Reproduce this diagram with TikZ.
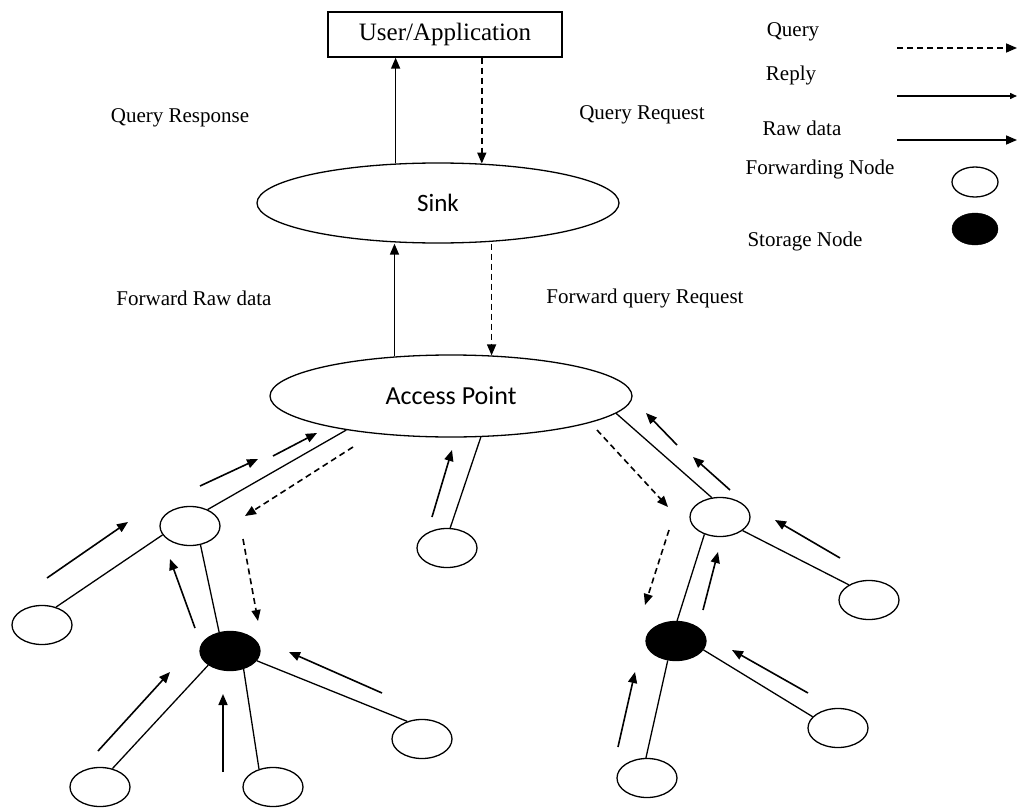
\documentclass[tikz,border=0pt]{standalone}
\usepackage{fontspec}
\setmainfont{Liberation Serif}
\newfontfamily\calib{Carlito}
\usetikzlibrary{shapes.geometric,arrows.meta,calc}
\begin{document}
\begin{tikzpicture}[x=1pt,y=-1pt,
  lab/.style={font=\fontsize{21}{24}\selectfont, inner sep=0},
  fnode/.style={ellipse, draw, line width=1.3pt, minimum width=60pt, minimum height=39pt, inner sep=0},
  snode/.style={fnode, fill=black},
  bignode/.style={ellipse, draw, line width=1.3pt, minimum width=362pt, inner sep=0},
  link/.style={line width=1.3pt},
  raw/.style={line width=1.6pt, -{Triangle[length=11pt,width=9pt]}},
  reply/.style={line width=1.4pt, -{Triangle[length=7pt,width=6pt]}},
  qry/.style={line width=1.6pt, dash pattern=on 6pt off 4pt, -{Triangle[length=11pt,width=9pt]}}
]
\useasboundingbox (0,0) rectangle (1018,808);

% main blocks
\node[draw, line width=1.3pt, minimum width=234pt, minimum height=45pt, inner sep=0,
      font=\fontsize{25}{28}\selectfont] (UA) at (445,34.5) {User/Application};
\node[bignode, minimum height=80pt, font=\calib\fontsize{25}{28}\selectfont] (Sink) at (438,203) {Sink};
\node[bignode, minimum height=82pt, font=\calib\fontsize{26}{30}\selectfont] (AP) at (451,396) {Access Point};

% labels
\node[lab] (tqr) at (180,118) {Query Response};
\node[lab] (tqq) at (642,115) {Query Request};
\node[lab] (tfr) at (194,298) {Forward Raw data};
\node[lab] (tfq) at (645,298) {Forward query Request};

% legend
\node[lab] (lq) at (793,32) {Query};
\node[lab] (lr) at (791,75) {Reply};
\node[lab] (lw) at (802,128) {Raw data};
\node[lab] (lf) at (820,169) {Forwarding Node};
\node[lab] (ls) at (805,241) {Storage Node};
\node[ellipse, draw, line width=1.3pt, minimum width=46pt, minimum height=30pt, inner sep=0] (lfo) at (975,182) {};
\node[ellipse, draw, fill=black, minimum width=46pt, minimum height=32pt, inner sep=0] (lso) at (975,229) {};
\coordinate (lq1) at (897,48);  \coordinate (lq2) at (1017,48);
\coordinate (lr1) at (897,96);  \coordinate (lr2) at (1017,96);
\coordinate (lw1) at (897,140); \coordinate (lw2) at (1017,140);
\draw[qry] (lq1) -- (lq2);
\draw[reply] (lr1) -- (lr2);
\draw[raw] (lw1) -- (lw2);

% tree nodes
\node[fnode] (F1) at (190,526) {};
\node[fnode] (L1) at (42,625) {};
\node[snode] (S1) at (230,651) {};
\node[fnode] (L2) at (100,787) {};
\node[fnode] (L3) at (273,787) {};
\node[fnode] (L4) at (422,739) {};
\node[fnode] (M)  at (447,548) {};
\node[fnode] (F2) at (720,517) {};
\node[fnode] (R1) at (869,600) {};
\node[snode] (S2) at (676,641) {};
\node[fnode] (R2) at (647,778) {};
\node[fnode] (R3) at (838,728) {};

% vertical arrows
\draw[raw] (Sink.137) -- (Sink.137 |- UA.south);
\draw[qry] (Sink.42 |- UA.south) -- (Sink.42);
\draw[raw] (AP.145) -- (AP.145 |- Sink.south);
\draw[qry] (AP.45 |- Sink.south) -- (AP.45);

% links
\draw[link] (AP.198) -- (F1.43);
\draw[link] (F1.198) -- (L1.52);
\draw[link] (F1.299) -- (S1.120);
\draw[link] (S1.213) -- (L2.56);
\draw[link] (S1.307) -- (L3.128);
\draw[link] (S1.340) -- (L4.130);
\draw[link] (AP.306) -- (M.81);
\draw[link] (AP.354) -- (F2.113);
\draw[link] (F2.228) -- (S2.87);
\draw[link] (F2.329) -- (R1.143);
\draw[link] (S2.247) -- (R2.93);
\draw[link] (S2.342) -- (R3.156);

% flow arrows
\coordinate (a1) at (200,486); \coordinate (a2) at (258,459);
\coordinate (b1) at (273,456); \coordinate (b2) at (317,433);
\coordinate (c1) at (47,578);  \coordinate (c2) at (128,522);
\coordinate (d1) at (195,628); \coordinate (d2) at (170,559);
\coordinate (e1) at (98,751);  \coordinate (e2) at (170,672);
\coordinate (f1) at (223,772); \coordinate (f2) at (223,694);
\coordinate (g1) at (382,693); \coordinate (g2) at (289,652);
\coordinate (h1) at (353,447); \coordinate (h2) at (245,516);
\coordinate (i1) at (243,539); \coordinate (i2) at (258,621);
\coordinate (j1) at (432,517); \coordinate (j2) at (452,450);
\coordinate (k1) at (677,445); \coordinate (k2) at (646,413);
\coordinate (l1) at (730,490); \coordinate (l2) at (693,457);
\coordinate (m1) at (597,430); \coordinate (m2) at (668,507);
\coordinate (n1) at (669,530); \coordinate (n2) at (645,605);
\coordinate (o1) at (703,610); \coordinate (o2) at (718,552);
\coordinate (p1) at (840,558); \coordinate (p2) at (775,520);
\coordinate (q1) at (618,747); \coordinate (q2) at (635,672);
\coordinate (r1) at (808,693); \coordinate (r2) at (732,650);
\draw[raw] (a1) -- (a2);
\draw[raw] (b1) -- (b2);
\draw[raw] (c1) -- (c2);
\draw[raw] (d1) -- (d2);
\draw[raw] (e1) -- (e2);
\draw[raw] (f1) -- (f2);
\draw[raw] (g1) -- (g2);
\draw[qry] (h1) -- (h2);
\draw[qry] (i1) -- (i2);
\draw[raw] (j1) -- (j2);
\draw[raw] (k1) -- (k2);
\draw[raw] (l1) -- (l2);
\draw[qry] (m1) -- (m2);
\draw[qry] (n1) -- (n2);
\draw[raw] (o1) -- (o2);
\draw[raw] (p1) -- (p2);
\draw[raw] (q1) -- (q2);
\draw[raw] (r1) -- (r2);
\end{tikzpicture}
\end{document}
